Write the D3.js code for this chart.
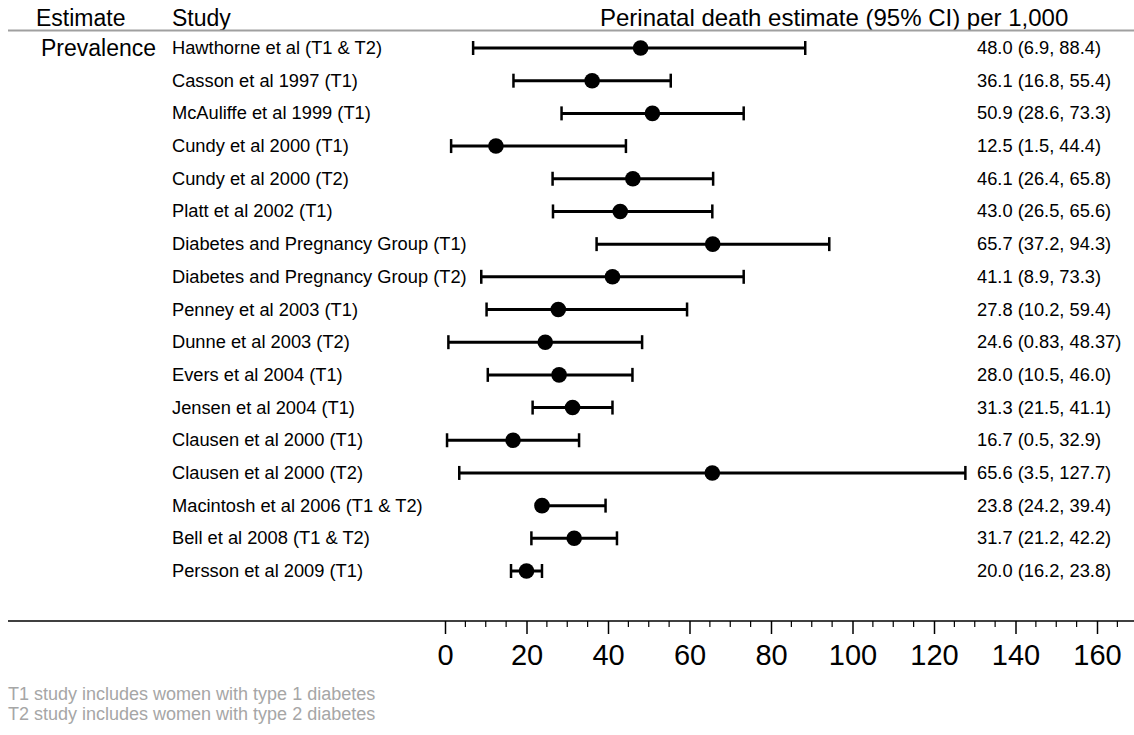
<!DOCTYPE html>
<html>
<head>
<meta charset="utf-8">
<script src="https://cdn.jsdelivr.net/npm/d3@7"></script>
<style>
  html, body { margin: 0; padding: 0; background: #fff; }
  svg { display: block; font-family: "Liberation Sans", Arial, Helvetica, sans-serif; }
</style>
</head>
<body>
<svg id="chart" width="1134" height="735"></svg>
<script>
// Studies reporting perinatal death per 1,000 births in women with pre-existing diabetes
const studies = [
  "Hawthorne et al (T1 & T2)",
  "Casson et al 1997 (T1)",
  "McAuliffe et al 1999 (T1)",
  "Cundy et al 2000 (T1)",
  "Cundy et al 2000 (T2)",
  "Platt et al 2002 (T1)",
  "Diabetes and Pregnancy Group (T1)",
  "Diabetes and Pregnancy Group (T2)",
  "Penney et al 2003 (T1)",
  "Dunne et al 2003 (T2)",
  "Evers et al 2004 (T1)",
  "Jensen et al 2004 (T1)",
  "Clausen et al 2000 (T1)",
  "Clausen et al 2000 (T2)",
  "Macintosh et al 2006 (T1 & T2)",
  "Bell et al 2008 (T1 & T2)",
  "Persson et al 2009 (T1)"
];
const estimates = [48.0, 36.1, 50.9, 12.5, 46.1, 43.0, 65.7, 41.1, 27.8, 24.6, 28.0, 31.3, 16.7, 65.6, 23.8, 31.7, 20.0];
const lowerCI   = [6.9, 16.8, 28.6, 1.5, 26.4, 26.5, 37.2, 8.9, 10.2, 0.83, 10.5, 21.5, 0.5, 3.5, 24.2, 21.2, 16.2];
const upperCI   = [88.4, 55.4, 73.3, 44.4, 65.8, 65.6, 94.3, 73.3, 59.4, 48.37, 46.0, 41.1, 32.9, 127.7, 39.4, 42.2, 23.8];
const ciLabels  = [
  "48.0 (6.9, 88.4)", "36.1 (16.8, 55.4)", "50.9 (28.6, 73.3)", "12.5 (1.5, 44.4)",
  "46.1 (26.4, 65.8)", "43.0 (26.5, 65.6)", "65.7 (37.2, 94.3)", "41.1 (8.9, 73.3)",
  "27.8 (10.2, 59.4)", "24.6 (0.83, 48.37)", "28.0 (10.5, 46.0)", "31.3 (21.5, 41.1)",
  "16.7 (0.5, 32.9)", "65.6 (3.5, 127.7)", "23.8 (24.2, 39.4)", "31.7 (21.2, 42.2)",
  "20.0 (16.2, 23.8)"
];
const estimateGroup = "Prevalence";
const headers = ["Estimate", "Study", "Perinatal death estimate (95% CI) per 1,000"];
const majorTicks = [0, 20, 40, 60, 80, 100, 120, 140, 160];
const footnotes = [
  "T1 study includes women with type 1 diabetes",
  "T2 study includes women with type 2 diabetes"
];

const rows = studies.map((s, i) => ({
  study: s, est: estimates[i], lo: lowerCI[i], hi: upperCI[i], label: ciLabels[i]
}));

const svg = d3.select("#chart");

const x = d3.scaleLinear().domain([0, 160]).range([445, 1097]);
const y = d3.scalePoint().domain(studies).range([48, 571]);

const axisY = 621;

// Column headers and rule
svg.append("text").attr("x", 36).attr("y", 26).attr("font-size", 23).text(headers[0]);
svg.append("text").attr("x", 172).attr("y", 26).attr("font-size", 23).text(headers[1]);
svg.append("text").attr("x", 600).attr("y", 26).attr("font-size", 24).text(headers[2]);
svg.append("line").attr("x1", 8).attr("x2", 1134).attr("y1", 30.5).attr("y2", 30.5)
  .attr("stroke", "#a0a0a0").attr("stroke-width", 2);

// Group label
svg.append("text").attr("x", 41).attr("y", y(studies[0]) + 8).attr("font-size", 23)
  .text(estimateGroup);

// Study rows
const row = svg.append("g").selectAll("g").data(rows).join("g")
  .attr("transform", d => `translate(0,${y(d.study)})`);

row.append("text").attr("x", 172).attr("y", 6).attr("font-size", 18.3).text(d => d.study);
row.append("text").attr("x", 977).attr("y", 6).attr("font-size", 18.3).text(d => d.label);

row.append("line")
  .attr("x1", d => x(d.lo)).attr("x2", d => x(d.hi))
  .attr("stroke", "#000").attr("stroke-width", 3);
row.append("line")
  .attr("x1", d => x(d.lo)).attr("x2", d => x(d.lo)).attr("y1", -7).attr("y2", 7)
  .attr("stroke", "#000").attr("stroke-width", 2.5);
row.append("line")
  .attr("x1", d => x(d.hi)).attr("x2", d => x(d.hi)).attr("y1", -7).attr("y2", 7)
  .attr("stroke", "#000").attr("stroke-width", 2.5);
row.append("circle").attr("cx", d => x(d.est)).attr("r", 7.8).attr("fill", "#000");

// Bottom axis
svg.append("line").attr("x1", 8).attr("x2", 1134).attr("y1", axisY).attr("y2", axisY)
  .attr("stroke", "#000").attr("stroke-width", 1.5);

const minor = d3.range(0, 166, 5).filter(v => v % 20 !== 0);
svg.append("g").selectAll("line").data(minor).join("line")
  .attr("x1", d => x(d)).attr("x2", d => x(d))
  .attr("y1", axisY).attr("y2", axisY + 6)
  .attr("stroke", "#000").attr("stroke-width", 1.2);

const axis = d3.axisBottom(x).tickValues(majorTicks).tickSize(13).tickPadding(10)
  .tickFormat(d3.format("d"));
const ag = svg.append("g").attr("transform", `translate(0,${axisY})`).call(axis);
ag.select(".domain").remove();
ag.selectAll(".tick line").attr("stroke-width", 1.5);
ag.selectAll(".tick text").attr("font-size", 29).attr("font-family", "Liberation Sans, Arial, sans-serif")
  .attr("fill", "#000");

// Footnotes
svg.append("g").selectAll("text").data(footnotes).join("text")
  .attr("x", 8).attr("y", (d, i) => 700 + i * 20)
  .attr("font-size", 18).attr("fill", "#a6a6a6").text(d => d);
</script>
</body>
</html>
